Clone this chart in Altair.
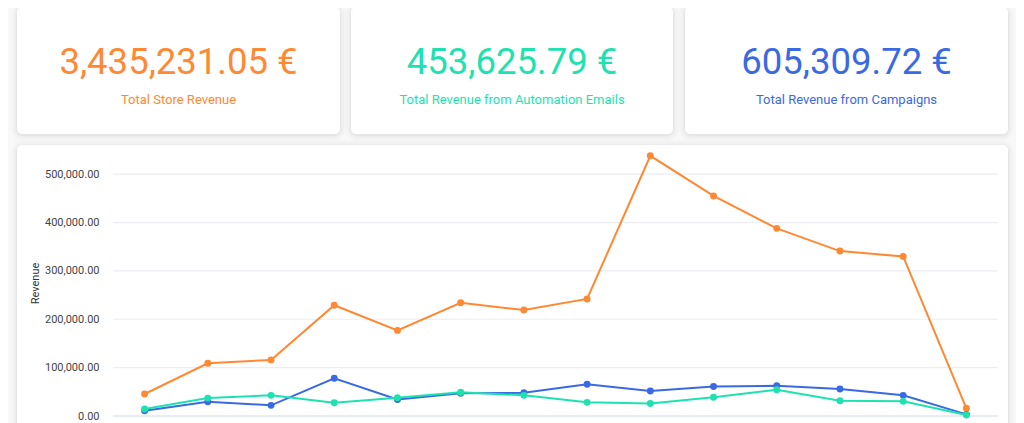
import altair as alt
import pandas as pd

# ---- data ----
periods = ["2019-01", "2019-02", "2019-03", "2019-04", "2019-05", "2019-06", "2019-07",
           "2019-08", "2019-09", "2019-10", "2019-11", "2019-12", "2020-01", "2020-02"]
store_revenue = [45500, 109000, 116000, 229000, 177000, 234000, 219000,
                 242000, 538000, 455000, 388000, 341000, 330000, 16000]
campaign_revenue = [11000, 29600, 22000, 78000, 34000, 47000, 48000,
                    65500, 51600, 61000, 62600, 56000, 42700, 3400]
automation_revenue = [14500, 37000, 42700, 27500, 37800, 49000, 42700,
                      28200, 26000, 38600, 54400, 31700, 30300, 2000]

series_names = ["Total Store Revenue", "Campaigns", "Automation Emails"]
series_values = [store_revenue, campaign_revenue, automation_revenue]
series_colors = ["#ff8833", "#3a6ae3", "#1de2b0"]

kpi_values = ["3,435,231.05 €", "453,625.79 €", "605,309.72 €"]
kpi_labels = ["Total Store Revenue", "Total Revenue from Automation Emails", "Total Revenue from Campaigns"]
kpi_colors = ["#ff8833", "#1de2b0", "#3a6ae3"]

y_ticks = [0, 100000, 200000, 300000, 400000, 500000]

W, H = 885, 266
Y_DOMAIN = [0, 550000]

# ---- decoration: cards ----
one = pd.DataFrame({"k": [0]})

def card(x, x2, y, y2):
    layers = []
    for grow, op in [(6, 0.010), (4, 0.014), (2, 0.02), (1, 0.025)]:
        layers.append(
            alt.Chart(one).mark_rect(color="#000000", opacity=op, cornerRadius=6 + grow)
            .encode(x=alt.value(x - grow), x2=alt.value(x2 + grow),
                    y=alt.value(y - grow + 1), y2=alt.value(y2 + grow + 1))
        )
    layers.append(
        alt.Chart(one).mark_rect(color="white", cornerRadius=5)
        .encode(x=alt.value(x), x2=alt.value(x2), y=alt.value(y), y2=alt.value(y2))
    )
    return layers

card_boxes = [(-96, 227), (238, 560), (572, 895)]
layers = []
for (cx, cx2) in card_boxes:
    layers += card(cx, cx2, -143, -16)
layers += card(-96, 895, -5, 320)

# KPI texts
for i, (cx, cx2) in enumerate(card_boxes):
    d = pd.DataFrame({"value": [kpi_values[i]], "label": [kpi_labels[i]]})
    center = (cx + cx2) / 2
    layers.append(
        alt.Chart(d).mark_text(font="Roboto", fontSize=36.5, align="center", baseline="alphabetic",
                               color=kpi_colors[i])
        .encode(text="value:N", x=alt.value(center), y=alt.value(-76))
    )
    layers.append(
        alt.Chart(d).mark_text(font="Roboto", fontSize=13, align="center", baseline="alphabetic",
                               color=kpi_colors[i])
        .encode(text="label:N", x=alt.value(center), y=alt.value(-46))
    )

# ---- line chart ----
y_axis = alt.Axis(values=y_ticks, format=",.2f", title="Revenue",
                  titleFont="Roboto", titleFontSize=11, titleFontWeight="normal",
                  titleColor="#333333", titlePadding=4,
                  labelFont="Roboto", labelFontSize=11, labelColor="#444444",
                  labelPadding=14, ticks=False, domain=False, grid=False, zindex=1)

def y_enc(field):
    return alt.Y(field, scale=alt.Scale(domain=Y_DOMAIN, nice=False, zero=True), axis=y_axis)

# gridlines through the y scale
grid_df = pd.DataFrame({"tick": y_ticks,
                        "kind": ["zero"] + ["grid"] * (len(y_ticks) - 1)})
layers.append(
    alt.Chart(grid_df).mark_rule(strokeWidth=1.2)
    .encode(x=alt.value(0), x2=alt.value(W), y=y_enc("tick:Q"),
            color=alt.Color("kind:N", scale=alt.Scale(domain=["zero", "grid"],
                                                      range=["#d3d9e6", "#ebedf0"]), legend=None))
)

rows = []
for name, vals in zip(series_names, series_values):
    for p, v in zip(periods, vals):
        rows.append({"period": p, "revenue": v, "series": name})
df = pd.DataFrame(rows)

def x_enc():
    return alt.X("period:O", sort=periods, scale=alt.Scale(type="point", padding=0.5), axis=None)

for name, col in zip(series_names, series_colors):
    sub = df[df["series"] == name]
    layers.append(alt.Chart(sub).mark_line(color=col, strokeWidth=2)
                  .encode(x=x_enc(), y=y_enc("revenue:Q")))
    layers.append(alt.Chart(sub).mark_circle(color=col, size=48, opacity=1)
                  .encode(x=x_enc(), y=y_enc("revenue:Q")))

chart = alt.layer(*layers).resolve_scale(color="independent").properties(
    width=W, height=H,
    autosize=alt.AutoSizeParams(type="none"),
    padding={"left": 105, "top": 142, "right": 18, "bottom": 7},
    background="#f8f8f9",
).configure_view(stroke=None)

chart.save("out.html", embed_options={"renderer": "svg", "actions": False})
